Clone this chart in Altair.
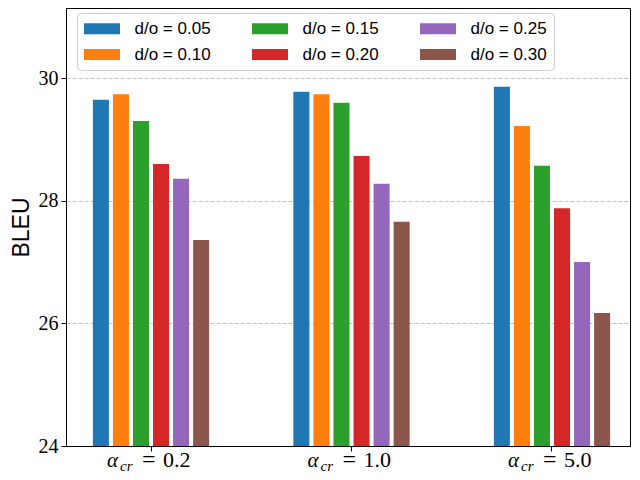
import altair as alt
import pandas as pd

groups = ["0.2", "1.0", "5.0"]
group_values = ["0.2", "1.0", "5.0"]
dropouts = ["d/o = 0.05", "d/o = 0.10", "d/o = 0.15", "d/o = 0.20", "d/o = 0.25", "d/o = 0.30"]
colors = ["#1f77b4", "#ff7f0e", "#2ca02c", "#d62728", "#9467bd", "#8c564b"]
bleu_a02 = [29.65, 29.74, 29.30, 28.60, 28.36, 27.36]
bleu_a10 = [29.78, 29.74, 29.60, 28.73, 28.28, 27.66]
bleu_a50 = [29.86, 29.22, 28.57, 27.88, 27.00, 26.17]

rows = []
for g, vals in zip(groups, [bleu_a02, bleu_a10, bleu_a50]):
    for d, v in zip(dropouts, vals):
        rows.append({"group": g, "dropout": d, "bleu": v})
df = pd.DataFrame(rows)
lbl = pd.DataFrame({"group": groups, "value": group_values})

W, H = 564, 438

xscale = alt.Scale(domain=groups, paddingInner=0.4, paddingOuter=0.1065, align=0.582)
xenc = alt.X("group:N", scale=xscale, sort=groups)

bars = alt.Chart(df).mark_bar(clip=True).encode(
    x=alt.X("group:N", scale=xscale, sort=groups,
            axis=alt.Axis(labels=False, title=None, ticks=True, tickSize=5,
                          tickColor="black", domainColor="black", grid=False)),
    xOffset=alt.XOffset("dropout:N", sort=dropouts,
                        scale=alt.Scale(paddingInner=0.2, paddingOuter=0.1)),
    y=alt.Y("bleu:Q", scale=alt.Scale(domain=[24, 31.145], nice=False, zero=False),
            axis=alt.Axis(values=[24, 26, 28, 30], title="BLEU", grid=True,
                          gridDash=[4, 2], gridColor="#b0b0b0", gridWidth=0.8,
                          labelFont="Liberation Serif", labelFontSize=20,
                          labelColor="black", labelPadding=3, tickSize=5,
                          tickColor="black", domainColor="black",
                          titleFont="Liberation Sans", titleFontSize=23,
                          titleFontWeight="normal", titleColor="black",
                          titlePadding=5)),
    y2=alt.datum(24),
    color=alt.Color("dropout:N",
                    scale=alt.Scale(domain=dropouts, range=colors),
                    legend=alt.Legend(orient="none", legendX=11, legendY=5,
                                      columns=3, title=None,
                                      symbolType="M-3.273,-1H3.273V1H-3.273Z",
                                      symbolSize=121, symbolStrokeWidth=0,
                                      symbolOffset=9.5,
                                      symbolOpacity=1, labelOffset=24,
                                      labelFont="Liberation Sans", labelFontSize=17,
                                      labelColor="black", rowPadding=8,
                                      columnPadding=40, padding=7,
                                      fillColor="rgba(255,255,255,0.8)",
                                      strokeColor="#cccccc", cornerRadius=4)),
)

alpha = alt.Chart(lbl).mark_text(
    font="Liberation Serif", fontStyle="italic", fontSize=21, align="left",
    baseline="alphabetic", dx=-44, color="black"
).encode(x=xenc, y=alt.value(H + 21), text=alt.value("α"))

sub = alt.Chart(lbl).mark_text(
    font="Liberation Serif", fontStyle="italic", fontSize=15, align="left",
    baseline="alphabetic", dx=-31, color="black"
).encode(x=xenc, y=alt.value(H + 25), text=alt.value("cr"))

eq = alt.Chart(lbl).mark_text(
    font="Liberation Serif", fontSize=24, align="left",
    baseline="alphabetic", dx=-9, color="black"
).encode(x=xenc, y=alt.value(H + 21), text=alt.value("="))

num = alt.Chart(lbl).mark_text(
    font="Liberation Serif", fontSize=22, align="left",
    baseline="alphabetic", dx=12, color="black"
).encode(x=xenc, y=alt.value(H + 21), text="value:N")

chart = alt.layer(bars, alpha, sub, eq, num).properties(
    width=W, height=H,
    autosize=alt.AutoSizeParams(type="none"),
    padding={"left": 58, "top": 0, "right": 2, "bottom": 30},
).configure_view(stroke="black", strokeWidth=1)

chart.save("out.html", embed_options={"renderer": "svg", "actions": False})
